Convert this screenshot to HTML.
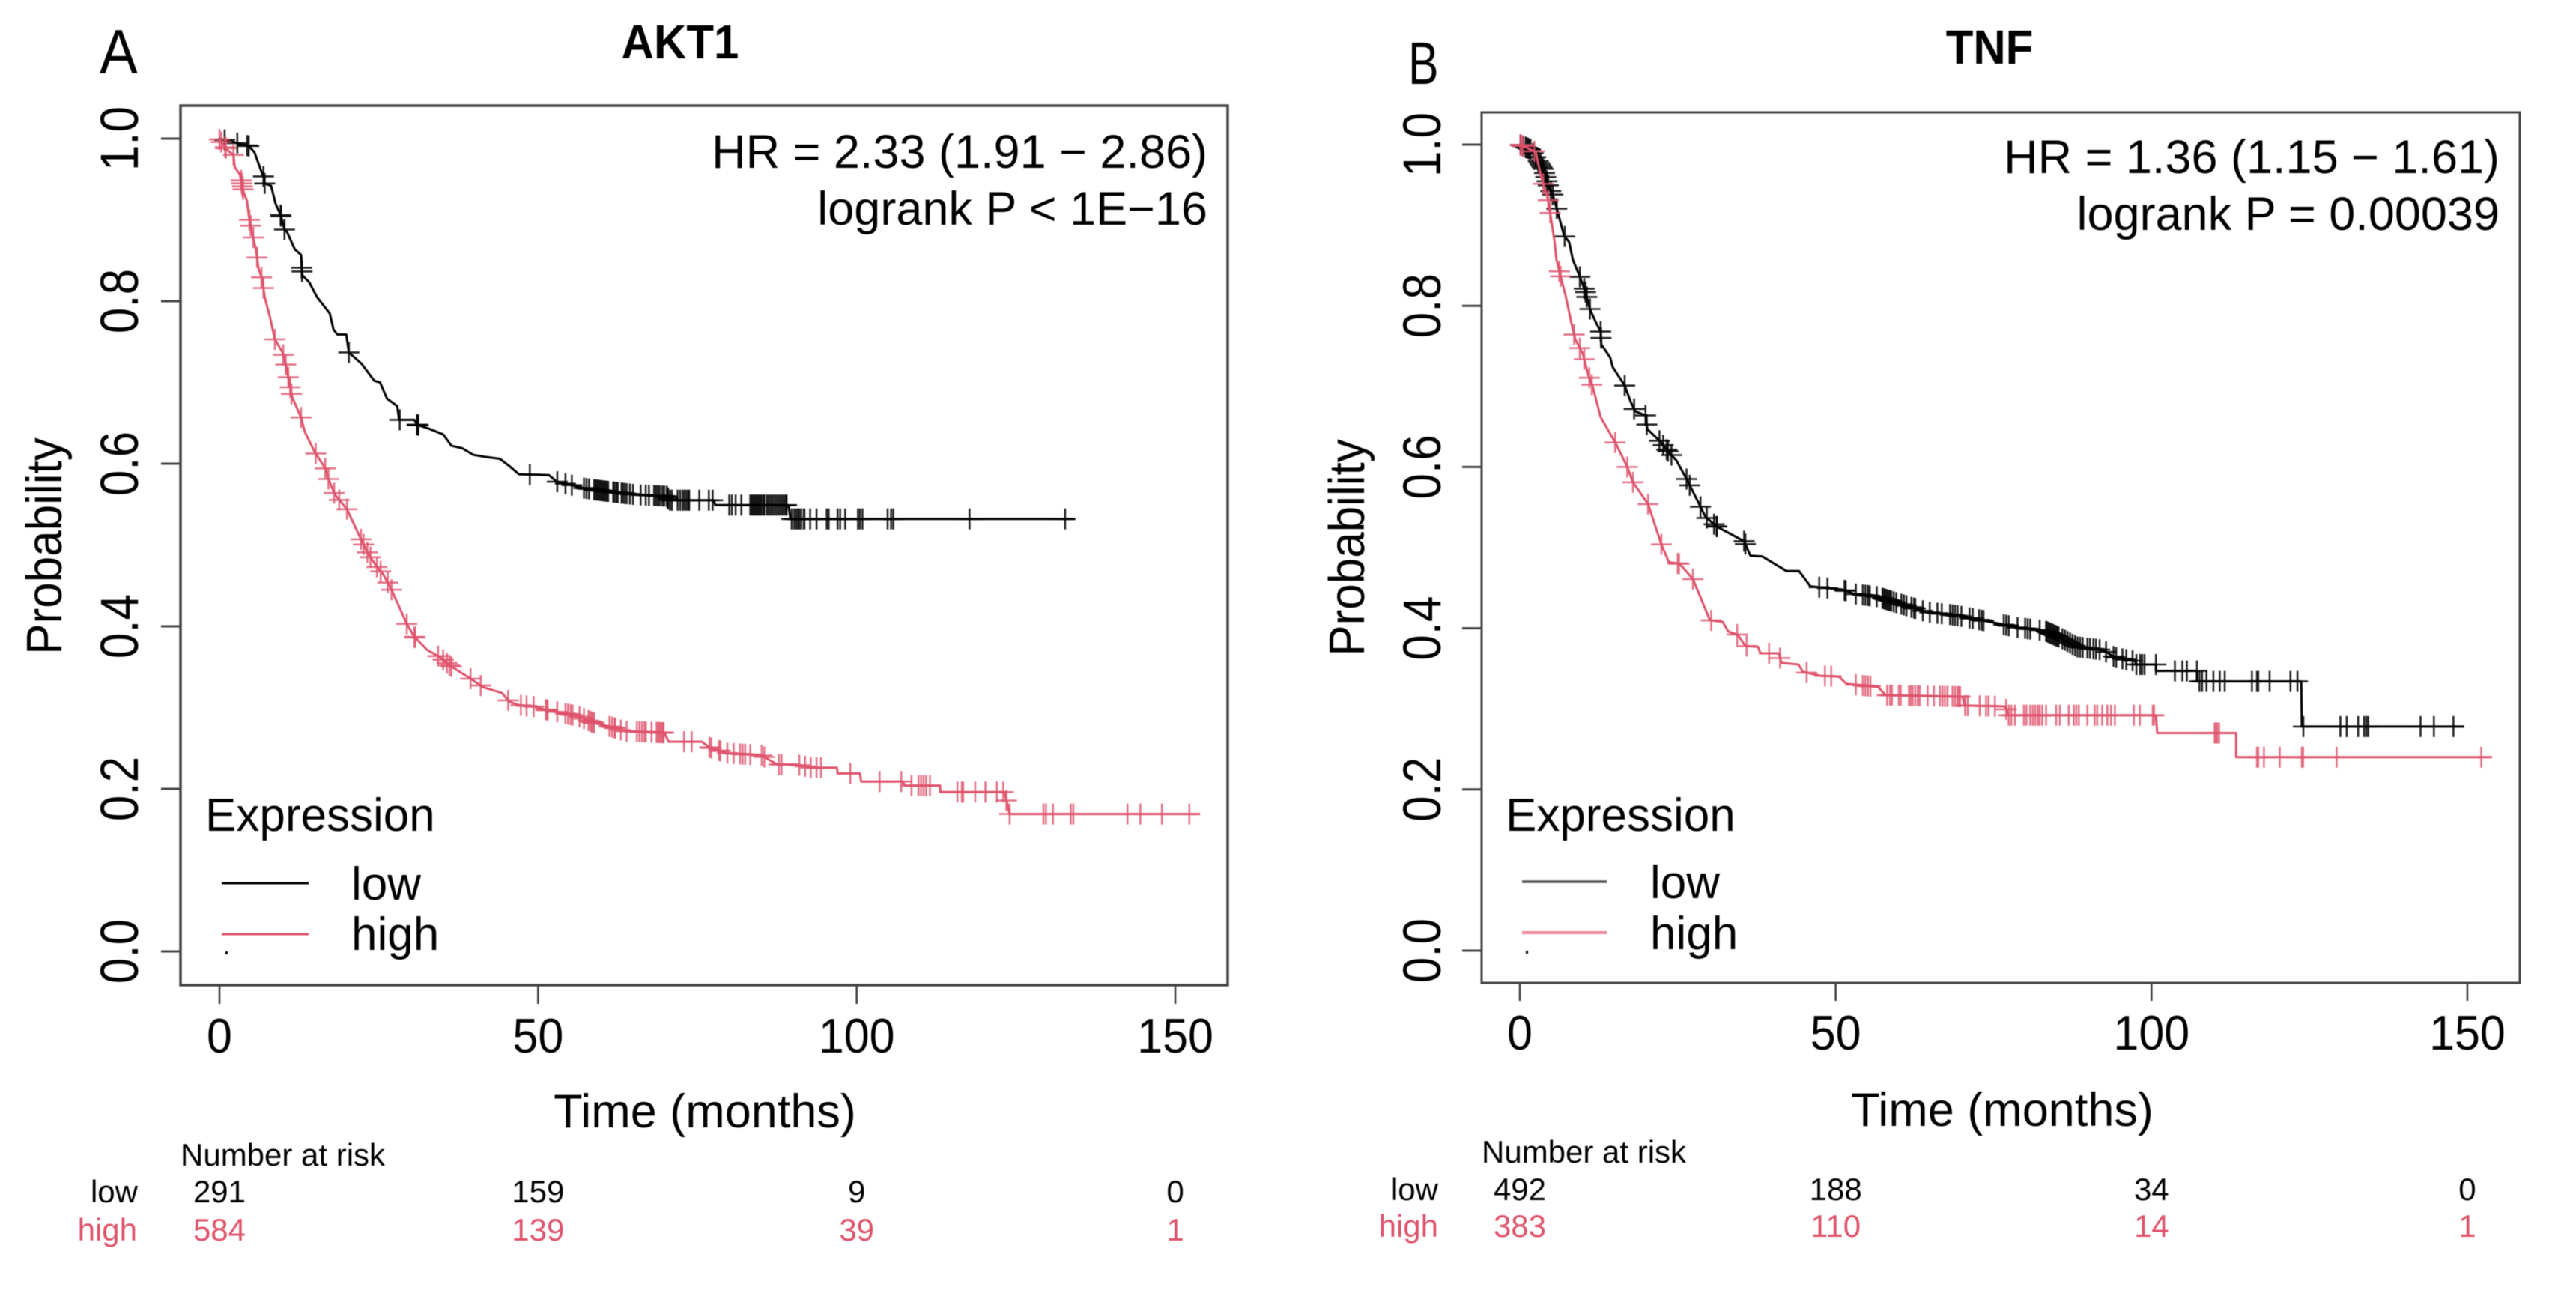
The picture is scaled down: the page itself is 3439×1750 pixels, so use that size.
<!DOCTYPE html>
<html lang="en">
<head>
<meta charset="utf-8">
<title>Kaplan-Meier survival curves: AKT1 and TNF</title>
<style>
html,body{margin:0;padding:0;background:#fff;}
#figure{display:block;width:3439px;height:1750px;filter:blur(0.6px);}
text{font-family:"Liberation Sans",Arial,sans-serif;fill:#000;}
.red{fill:#DF536B;}
</style>
</head>
<body>
<svg id="figure" xmlns="http://www.w3.org/2000/svg" width="3439" height="1750" viewBox="0 0 3439 1750">
<rect x="0" y="0" width="3439" height="1750" fill="#fff"/>

<g id="panel-a">
  <text transform="translate(133,98) scale(0.95,1.04)" font-size="80">A</text>
  <text transform="translate(908,78) scale(1,1.07)" font-size="60" font-weight="700" text-anchor="middle">AKT1</text>
  <rect x="241" y="141" width="1398" height="1174" fill="none" stroke="#444" stroke-width="3.5"/>
  <text x="1612" y="224" font-size="63" text-anchor="end">HR = 2.33 (1.91 − 2.86)</text>
  <text x="1612" y="300" font-size="63" text-anchor="end">logrank P &lt; 1E−16</text>
  <text transform="translate(82,729) rotate(-90) scale(1,1.07)" font-size="62" text-anchor="middle">Probability</text>
  <text x="941" y="1505" font-size="63" text-anchor="middle">Time (months)</text>
  <text x="274" y="1109" font-size="62">Expression</text>
  <line x1="296" x2="412" y1="1179" y2="1179" stroke="#000" stroke-width="3"/>
  <line x1="296" x2="412" y1="1247" y2="1247" stroke="#DF536B" stroke-width="3"/>
  <rect x="301" y="1270" width="3" height="4" fill="#000"/>
  <text x="469" y="1201" font-size="62">low</text>
  <text x="469" y="1268" font-size="62">high</text>
  <text x="241" y="1556" font-size="42">Number at risk</text>
  <text x="184" y="1605" font-size="42" text-anchor="end">low</text>
  <text class="red" x="183" y="1656" font-size="42" text-anchor="end">high</text>
</g>

<g id="panel-b">
  <text transform="translate(1880,112) scale(0.76,1.0)" font-size="80">B</text>
  <text transform="translate(2656,85) scale(1,1.07)" font-size="60" font-weight="700" text-anchor="middle">TNF</text>
  <rect x="1978" y="150" width="1386" height="1162" fill="none" stroke="#444" stroke-width="3"/>
  <text x="3337" y="231" font-size="63" text-anchor="end">HR = 1.36 (1.15 − 1.61)</text>
  <text x="3337" y="307" font-size="63" text-anchor="end">logrank P = 0.00039</text>
  <text transform="translate(1821,731) rotate(-90) scale(1,1.07)" font-size="62" text-anchor="middle">Probability</text>
  <text x="2673" y="1503" font-size="63" text-anchor="middle">Time (months)</text>
  <text x="2010" y="1109" font-size="62">Expression</text>
  <line x1="2032" x2="2145" y1="1177" y2="1177" stroke="#555" stroke-width="3.5"/>
  <line x1="2032" x2="2145" y1="1245" y2="1245" stroke="#EC8A9C" stroke-width="4"/>
  <rect x="2037" y="1269" width="3" height="4" fill="#000"/>
  <text x="2203" y="1199" font-size="62">low</text>
  <text x="2203" y="1267" font-size="62">high</text>
  <text x="1978" y="1552" font-size="42">Number at risk</text>
  <text x="1920" y="1602" font-size="42" text-anchor="end">low</text>
  <text class="red" x="1920" y="1651" font-size="42" text-anchor="end">high</text>
</g>
</svg>

<script>
// ---- shared axis labels ----
const xTickValues = [0, 50, 100, 150];
const xTickLabels = ["0", "50", "100", "150"];
const yTickValues = [0, 0.2, 0.4, 0.6, 0.8, 1.0];
const yTickLabels = ["0.0", "0.2", "0.4", "0.6", "0.8", "1.0"];

// ---- AKT1 ----
const aktRiskLow = ["291", "159", "9", "0"];
const aktRiskHigh = ["584", "139", "39", "1"];
const aktLowTimes = [0,4.6,5.5,6.7,7.05,7.05,8.1,8.8,9.6,9.9,10.2,10.6,11.8,12.8,12.9,13,14.1,15.3,17.3,17.9,18.5,19.9,20.3,22.3,24.3,25.2,26.3,27.9,28.2,30.6,31,32.9,35.1,36.4,38.1,39.8,42,44,45.5,47,51.7,52.9,57.2,58.8,65.1,70.2,70.5,77.6,77.8,89.3,89.6,134.2];
const aktLowSurv = [1,.991,.983,.957,.951,.945,.942,.92,.906,.897,.888,.885,.864,.857,.841,.832,.823,.805,.785,.765,.759,.759,.737,.723,.702,.7,.68,.671,.654,.654,.648,.643,.636,.622,.619,.611,.608,.606,.597,.587,.586,.578,.57,.568,.562,.56,.555,.555,.549,.549,.532,.532];
const aktLowCensor = [.82,2.8,4.35,4.6,6.9,7.1,9.6,9.65,10.2,12.9,12.95,20.3,28.3,31,31.1,31.2,48.7,53,54.3,55.3,57.2,57.6,58,58.8,59,59.2,59.4,59.6,59.8,60,60.2,60.4,60.6,60.8,61,61.8,62,62.3,62.5,63.1,63.3,63.6,63.9,64.4,64.9,66.1,66.9,67.4,68.2,68.5,68.8,69.1,69.5,69.8,70.2,70.3,70.4,70.7,71,71.9,72.3,72.7,73,73.3,73.6,73.7,75.3,76.8,77.4,80,80.4,81,81.9,83.3,83.5,83.7,83.9,84.1,84.3,84.5,84.7,84.9,85.1,85.4,85.5,85.9,86.2,86.5,86.8,87.1,87.4,87.7,88,88.3,88.6,88.9,89,89.8,90.2,90.5,90.8,91,91.3,91.7,91.8,92.7,93.7,95.3,95.6,97,97.4,98.2,100.2,100.5,100.9,104.85,105.4,105.75,117.7,132.7];
const aktHighTimes = [0,1.2,2.2,2.4,3.2,3.8,4.3,4.7,5.2,5.8,6.1,6.7,7.1,7.9,8.7,9.9,10.5,11,11.4,12.8,13.4,14.9,16.7,17,18.1,20,22.2,23.2,24.7,25.7,27,29.4,30.6,32.6,34.6,36.1,39.3,41.4,44.3,45.5,47,49.4,51.4,54.1,56.4,58.8,61.6,63.5,69.8,70.5,75.7,76.9,79.6,83.5,85.1,87.5,90.5,92.9,96.9,97,100.5,100.7,107.2,107.6,113.1,113.1,123.1,123.4,124,153.9];
const aktHighSurv = [.999,.986,.98,.965,.956,.934,.924,.9,.882,.86,.841,.827,.805,.781,.753,.737,.719,.698,.682,.657,.639,.615,.593,.583,.562,.544,.507,.491,.473,.464,.445,.403,.387,.371,.362,.352,.336,.325,.318,.307,.303,.301,.297,.293,.289,.281,.276,.271,.269,.258,.258,.251,.244,.242,.241,.23,.23,.226,.226,.219,.219,.209,.209,.204,.204,.196,.196,.189,.169,.169];
const aktHighCensor = [0,.3,.9,1,2.2,3.4,3.5,3.6,3.7,4.7,4.9,5.3,5.9,6.6,6.9,8.7,10,10.4,10.8,11.1,11.3,12.8,15.1,16.6,17.1,18,18.8,20,22.2,22.6,23.2,23.7,24.7,25.3,26.4,27,29.4,30.6,30.7,34.3,35.1,35.7,36.1,36.4,39.4,41,45.3,47.3,48.2,49.3,51.2,51.4,51.5,53,54.3,54.7,55.1,55.4,56.5,57.2,57.9,58.2,58.4,58.6,58.8,61.2,61.6,62,62.1,63,63.9,65.5,65.9,66.3,66.7,66.9,67.8,68.6,68.8,69,69.2,69.4,69.6,69.7,72.9,74.1,76.9,77.2,78.4,78.6,79.7,80.7,81.7,82.1,82.5,83.3,85.1,85.5,87.8,88.2,91,91.9,92.8,93.7,94.4,99,103.6,107,108.6,109.7,110.1,110.5,110.9,111.5,115.8,116.5,116.7,118.6,120.2,122,123,123.5,124,129.3,129.7,130.8,133.6,134,142.5,144.5,147.9,152.2];

// ---- TNF ----
const tnfRiskLow = ["492", "188", "34", "0"];
const tnfRiskHigh = ["383", "110", "14", "1"];
const tnfLowTimes = [0,1.7,3.7,4.6,5.2,5.8,7,7.8,8.4,9.4,10.4,11.1,12,12.8,12.9,14.3,14.7,16.6,17.6,18.3,19.9,20.2,22.3,23.5,24.8,26.4,28.2,29.4,31.2,35.5,36.5,38.4,42.2,44.2,46,51.1,52.7,56.7,59.1,64.5,68.1,70.4,75.7,78.7,83.1,85.9,88.2,92.3,94.2,97.4,97.6,100.7,100.7,107.2,107.2,123.7,123.8,149.5];
const tnfLowSurv = [1,.994,.97,.947,.938,.922,.887,.879,.857,.838,.817,.796,.78,.768,.752,.736,.724,.701,.68,.669,.664,.647,.631,.619,.608,.585,.557,.538,.526,.508,.49,.489,.471,.471,.452,.448,.443,.439,.433,.42,.417,.414,.406,.401,.397,.387,.377,.373,.364,.359,.355,.355,.347,.347,.334,.334,.278,.278];
const tnfLowCensor = [.1,.5,.9,1.1,1.3,1.5,1.7,2.1,2.5,2.9,3.1,3.3,3.5,3.7,3.9,4.1,4.3,4.5,4.9,5.2,5.85,7.1,9.5,10.2,10.4,10.6,11.1,12.8,12.85,16.6,18.1,19.9,20.1,22.1,22.7,23.25,23.45,24,26.4,26.9,28.6,29.6,30.75,31.15,31.2,35.5,35.7,47.4,48.7,51.4,51.6,53.2,54.3,54.7,55.1,55.4,56.5,57.4,57.6,57.8,58,58.2,58.4,58.6,58.8,59.2,59.6,60.4,60.8,61.2,62,62.4,62.6,63.8,64.9,66.1,66.8,68.1,68.5,68.9,69.3,69.9,71.2,71.7,72.7,73.1,73.4,76.6,77,77.4,78.8,80,80.4,80.8,82.3,83.3,83.5,83.7,83.9,84.1,84.3,84.5,84.7,84.9,85.1,85.3,85.9,86.3,86.7,87.1,87.5,87.9,88.3,88.7,89.1,89.85,90.25,90.8,91.2,91.8,92.8,94,94.4,95.4,96,97,97.6,98.2,98.5,98.9,100.7,103.7,104.9,105.6,107.2,107.6,108,108.7,109.8,110.8,111.6,115.9,116.7,116.9,118.7,122,123.1,124.04,129.9,130.9,132.7,133.65,134,134.3,142.6,144.7,147.8];
const tnfHighTimes = [0,2.5,3.4,4.5,4.9,5.5,5.8,6.4,7.2,8.2,8.8,10,10.8,11.6,12.8,15.2,17,17.9,20.3,22.4,23.6,25.3,27.4,30.1,32.1,33,34.5,35.7,37.7,38.1,41,41.4,44.1,44.8,47.6,50.5,51.7,56.7,57.9,70.1,70.4,76.8,77.4,100.7,100.9,113.4,113.4,153.9];
const tnfHighSurv = [1,.991,.959,.931,.91,.879,.857,.838,.814,.777,.758,.74,.715,.698,.662,.629,.6,.581,.554,.504,.482,.48,.461,.41,.408,.396,.392,.378,.377,.369,.369,.357,.355,.346,.341,.34,.331,.327,.317,.315,.304,.303,.292,.292,.27,.27,.24,.24];
const tnfHighCensor = [.1,.3,.5,2.3,3.7,4.5,4.8,6.25,6.45,8.6,9.5,10.2,11,11.4,15.1,17,17.9,20.3,22.4,25,25.2,27.4,30.3,34.4,35.9,39.45,41.2,45.4,48.3,49.3,53.2,54.3,54.7,55.1,55.5,58.15,58.6,58.9,60,60.3,61.6,61.9,62.2,62.6,63,63.3,64.55,65.55,66.5,66.9,67.3,67.7,68.5,68.9,69.3,69.5,69.7,70.5,70.9,72.8,73.8,74.2,75.2,77,77.4,77.8,78.4,79.8,80.2,80.8,81.2,81.6,82,82.3,82.7,83.3,84.9,85.5,86.9,87.7,88.1,88.5,89.85,91,91.4,92.2,93,93.6,94.2,97.2,98.15,100.2,100.4,110,110.2,110.4,110.7,116.7,116.9,117.8,120.3,123.8,124,129.3,152.2];

const SVG_NS = "http://www.w3.org/2000/svg";
const BLACK = "#000000";
const RED = "#DF536B";

function linearScale(zeroPixel, pixelsPerUnit) {
  return function (value) { return zeroPixel + pixelsPerUnit * value; };
}

function curveValueAt(t, times, surv) {
  if (t <= times[0]) return surv[0];
  for (let i = 1; i < times.length; i++) {
    if (t <= times[i]) {
      const span = times[i] - times[i - 1];
      if (span <= 0) return surv[i];
      return surv[i - 1] + (surv[i] - surv[i - 1]) * (t - times[i - 1]) / span;
    }
  }
  return surv[surv.length - 1];
}

function addSeries(parent, key, sx, sy, times, surv, censor, color, markOpacity) {
  const group = document.createElementNS(SVG_NS, "g");
  
  
  parent.appendChild(group);

  let d = "";
  for (let i = 0; i < times.length; i++) {
    d += (i === 0 ? "M" : "L") + sx(times[i]).toFixed(1) + " " + sy(surv[i]).toFixed(1);
  }
  const line = document.createElementNS(SVG_NS, "path");
  line.setAttribute("d", d);
  line.setAttribute("fill", "none");
  line.setAttribute("stroke", color);
  line.setAttribute("stroke-width", "3");
  line.setAttribute("stroke-linejoin", "round");
  
  
  group.appendChild(line);

  const half = 14;
  censor.forEach(function (t) {
    const cx = sx(t);
    const cy = sy(curveValueAt(t, times, surv));
    const mark = document.createElementNS(SVG_NS, "path");
    mark.setAttribute("d", "M" + (cx - half).toFixed(1) + " " + cy.toFixed(1) + "H" + (cx + half).toFixed(1) + "M" + cx.toFixed(1) + " " + (cy - half).toFixed(1) + "V" + (cy + half).toFixed(1));
    mark.setAttribute("fill", "none");
    mark.setAttribute("stroke", color);
    mark.setAttribute("stroke-width", "2.6");
    mark.setAttribute("stroke-opacity", markOpacity);
    
    
    group.appendChild(mark);
  });
}

function addAxes(parent, key, sx, sy, frameLeft, frameBottom, tickLeft, tickBottom, xLabelBaseline, yLabelBaseline) {
  xTickValues.forEach(function (v, i) {
    const tick = document.createElementNS(SVG_NS, "line");
    tick.setAttribute("x1", sx(v));
    tick.setAttribute("x2", sx(v));
    tick.setAttribute("y1", frameBottom);
    tick.setAttribute("y2", tickBottom);
    tick.setAttribute("stroke", "#444");
    tick.setAttribute("stroke-width", "2.6");
    
    
    parent.appendChild(tick);

    const label = document.createElementNS(SVG_NS, "text");
    label.setAttribute("transform", "translate(" + sx(v) + "," + xLabelBaseline + ") scale(1,1.07)");
    label.setAttribute("font-size", "61");
    label.setAttribute("text-anchor", "middle");
    
    
    label.textContent = xTickLabels[i];
    parent.appendChild(label);
  });
  yTickValues.forEach(function (v, i) {
    const tick = document.createElementNS(SVG_NS, "line");
    tick.setAttribute("x1", frameLeft);
    tick.setAttribute("x2", tickLeft);
    tick.setAttribute("y1", sy(v));
    tick.setAttribute("y2", sy(v));
    tick.setAttribute("stroke", "#444");
    tick.setAttribute("stroke-width", "3");
    
    
    parent.appendChild(tick);

    const label = document.createElementNS(SVG_NS, "text");
    label.setAttribute("transform", "translate(" + yLabelBaseline + "," + sy(v) + ") rotate(-90) scale(1,1.15)");
    label.setAttribute("font-size", "62");
    label.setAttribute("text-anchor", "middle");
    
    
    label.textContent = yTickLabels[i];
    parent.appendChild(label);
  });
}

function addRiskRow(parent, key, sx, values, baseline, isRed) {
  values.forEach(function (value, i) {
    const cell = document.createElementNS(SVG_NS, "text");
    cell.setAttribute("x", sx(xTickValues[i]));
    cell.setAttribute("y", baseline);
    cell.setAttribute("font-size", "42");
    cell.setAttribute("text-anchor", "middle");
    if (isRed) cell.setAttribute("class", "red");
    
    
    cell.textContent = value;
    parent.appendChild(cell);
  });
}

// Panel A
const panelA = document.getElementById("panel-a");
const xA = linearScale(293, 8.507);
const yA = linearScale(1270, -1085);
addAxes(panelA, "a", xA, yA, 241, 1315, 215, 1340, 1405, 184);
addSeries(panelA, "akt1-low", xA, yA, aktLowTimes, aktLowSurv, aktLowCensor, BLACK, "0.85");
addSeries(panelA, "akt1-high", xA, yA, aktHighTimes, aktHighSurv, aktHighCensor, RED, "0.8");
addRiskRow(panelA, "akt1-low", xA, aktRiskLow, 1605, false);
addRiskRow(panelA, "akt1-high", xA, aktRiskHigh, 1656, true);

// Panel B
const panelB = document.getElementById("panel-b");
const xB = linearScale(2029, 8.433);
const yB = linearScale(1269, -1076);
addAxes(panelB, "b", xB, yB, 1978, 1312, 1952, 1336, 1401, 1923);
addSeries(panelB, "tnf-low", xB, yB, tnfLowTimes, tnfLowSurv, tnfLowCensor, BLACK, "0.85");
addSeries(panelB, "tnf-high", xB, yB, tnfHighTimes, tnfHighSurv, tnfHighCensor, RED, "0.8");
addRiskRow(panelB, "tnf-low", xB, tnfRiskLow, 1602, false);
addRiskRow(panelB, "tnf-high", xB, tnfRiskHigh, 1651, true);
</script>
</body>
</html>
